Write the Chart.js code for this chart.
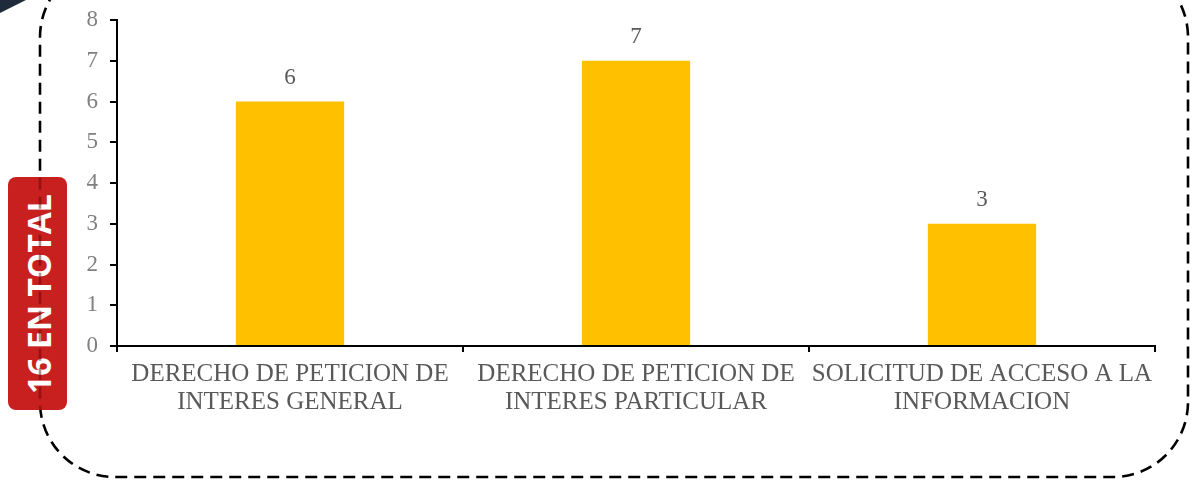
<!DOCTYPE html>
<html>
<head>
<meta charset="utf-8">
<script src="https://cdn.jsdelivr.net/npm/chart.js@4"></script>
<style>
  html, body { margin: 0; padding: 0; background: #fff; }
  #wrap { position: relative; width: 1192px; height: 483px; overflow: hidden; }
  #deco, #over { position: absolute; left: 0; top: 0; }
  #c { position: absolute; left: 0; top: 0; }
  #label {
    position: absolute; left: 8px; top: 177px; width: 59px; height: 233px;
    background: #C8201E; border-radius: 8px;
  }
  #label span {
    position: absolute; left: 50%; top: 50%;
    transform: translate(-50%, -50%) rotate(-90deg);
    white-space: nowrap; color: #fff; font-family: "Open Sans", sans-serif;
    font-weight: 700; font-size: 32px; letter-spacing: 0px;
  }
</style>
</head>
<body>
<div id="wrap">
  <svg id="deco" width="1192" height="483">
    <polygon points="0,0 26,0 0,13" fill="#1f2a3a"/>
    <rect x="40" y="-38" width="1148" height="515" rx="75" ry="75" fill="none" stroke="#000" stroke-width="2.6" stroke-dasharray="12,7"/>
  </svg>
  <canvas id="c" width="1192" height="483"></canvas>
  <div id="label"><span>16 EN TOTAL</span></div>
  <svg id="over" width="1192" height="483">
    <defs><clipPath id="lc"><rect x="8" y="177" width="59" height="233" rx="8"/></clipPath></defs>
    <rect clip-path="url(#lc)" x="40" y="-38" width="1148" height="515" rx="75" ry="75" fill="none" stroke="rgba(90,0,0,0.45)" stroke-width="2.6" stroke-dasharray="12,7"/>
  </svg>
</div>
<script>
const categories = [
  ["DERECHO DE PETICION DE", "INTERES GENERAL"],
  ["DERECHO DE PETICION DE", "INTERES PARTICULAR"],
  ["SOLICITUD DE ACCESO A LA", "INFORMACION"]
];
const values = [6, 7, 3];
const yTicks = [0, 1, 2, 3, 4, 5, 6, 7, 8];

const serif = "'Liberation Serif', 'DejaVu Serif', serif";

const dataLabels = {
  id: 'dataLabels',
  afterDatasetsDraw(chart) {
    const ctx = chart.ctx;
    const meta = chart.getDatasetMeta(0);
    ctx.save();
    ctx.font = "23px " + serif;
    ctx.fillStyle = "#595959";
    ctx.textAlign = "center";
    ctx.textBaseline = "middle";
    meta.data.forEach((bar, i) => {
      ctx.fillText(String(values[i]), bar.x, bar.y - 24);
    });
    ctx.restore();
  }
};

new Chart(document.getElementById('c'), {
  type: 'bar',
  data: {
    labels: categories,
    datasets: [{
      data: values,
      backgroundColor: '#FFC000',
      borderWidth: 0,
      categoryPercentage: 1,
      barPercentage: 0.313
    }]
  },
  options: {
    responsive: false,
    animation: false,
    layout: { padding: { top: 20, right: 37, bottom: 0, left: 0 } },
    plugins: { legend: { display: false }, tooltip: { enabled: false } },
    scales: {
      x: {
        offset: true,
        grid: {
          display: true, drawOnChartArea: false, drawTicks: true,
          tickLength: 6, color: '#000', offset: true, lineWidth: 2
        },
        border: { display: true, color: '#000', width: 2 },
        ticks: {
          color: '#595959', font: { family: serif, size: 25, lineHeight: 1.1 },
          padding: 9, maxRotation: 0, autoSkip: false
        },
        afterFit(scale) { scale.height = 137; }
      },
      y: {
        min: 0, max: 8,
        grid: {
          display: true, drawOnChartArea: false, drawTicks: true,
          tickLength: 7, color: '#000', lineWidth: 2
        },
        border: { display: true, color: '#000', width: 2 },
        afterBuildTicks(scale) { scale.ticks = yTicks.map(v => ({ value: v })); },
        ticks: {
          color: '#808080', font: { family: serif, size: 23 }, padding: 12
        },
        afterFit(scale) { scale.width = 117; scale.paddingTop = 4; scale.paddingBottom = 4; }
      }
    }
  },
  plugins: [dataLabels]
});
</script>
</body>
</html>
